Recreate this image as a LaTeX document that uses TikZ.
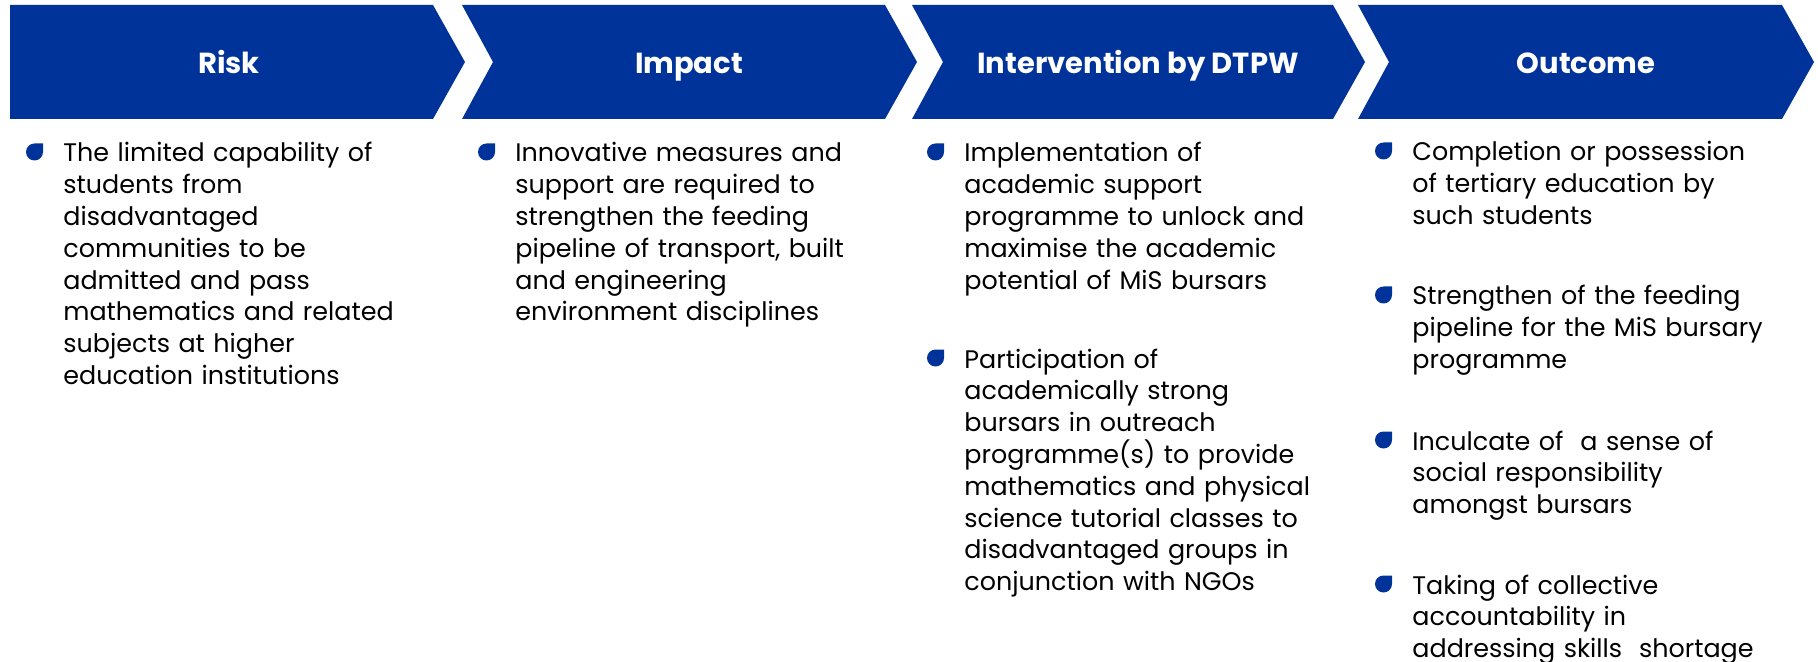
\documentclass[tikz,border=0pt]{standalone}
\usepackage{fontspec}
\setmainfont{Poppins}
\usepackage{tikz}
\usetikzlibrary{positioning}

\definecolor{dtpwblue}{RGB}{0,51,153}

\tikzset{
  leafbullet/.pic={\fill[dtpwblue] (8.5,0) arc[start angle=0,end angle=270,radius=8.5] -- (8.5,-8.5) -- cycle;},
  head/.style={anchor=base, text=white, inner sep=0pt,
    font=\bfseries\fontsize{14.5}{18}\selectfont},
  item/.style={anchor=base west, inner sep=0pt, text width=210pt, align=left,
    font=\fontsize{12.7}{15.9}\selectfont}
}

\begin{document}
\begin{tikzpicture}[x=0.5pt,y=-0.5pt]
  \useasboundingbox (0,0) rectangle (1818,662);
  % banner
  \fill[dtpwblue] (10,5) -- (433,5) -- (465,62) -- (433,119) -- (10,119) -- cycle;
  \foreach \l/\r in {462/885, 912/1333, 1358/1782}
    \fill[dtpwblue] (\l,5) -- (\r,5) -- ({\r+32},62) -- (\r,119) -- (\l,119) -- ({\l+31},62) -- cycle;

  \node[head] (risk) at (229,74) {Risk};
  \node[head] (impact) at (689,74) {Impact};
  \node[head] (interv) at (1138,74) {Intervention by DTPW};
  \node[head] (outcome) at (1586,74) {Outcome};

  % columns
  \node[item] (ri1) at (63,162) {The limited capability of\\students from\\disadvantaged\\communities to be\\admitted and pass\\mathematics and related\\subjects at higher\\education institutions};
  \node[item] (im1) at (515,162) {Innovative measures and\\support are required to\\strengthen the feeding\\pipeline of transport, built\\and engineering\\environment disciplines};
  \node[item] (iv1) at (964,162) {Implementation of\\academic support\\programme to unlock and\\maximise the academic\\potential of MiS bursars};
  \node[item] (iv2) at (964,368) {Participation of\\academically strong\\bursars in outreach\\programme(s) to provide\\mathematics and physical\\science tutorial classes to\\disadvantaged groups in\\conjunction with NGOs};
  \node[item] (oc1) at (1412,161) {Completion or possession\\of tertiary education by\\such students};
  \node[item] (oc2) at (1412,305) {Strengthen of the feeding\\pipeline for the MiS bursary\\programme};
  \node[item] (oc3) at (1412,450) {Inculcate of\ \ a sense of\\social responsibility\\amongst bursars};
  \node[item] (oc4) at (1412,594) {Taking of collective\\accountability in\\addressing skills\ \ shortage};

  % bullets
  \foreach \n in {ri1,im1,iv1,iv2,oc1,oc2,oc3,oc4}
    \pic at ([xshift=-14.25pt,yshift=5pt]\n.base west) {leafbullet};
\end{tikzpicture}
\end{document}
